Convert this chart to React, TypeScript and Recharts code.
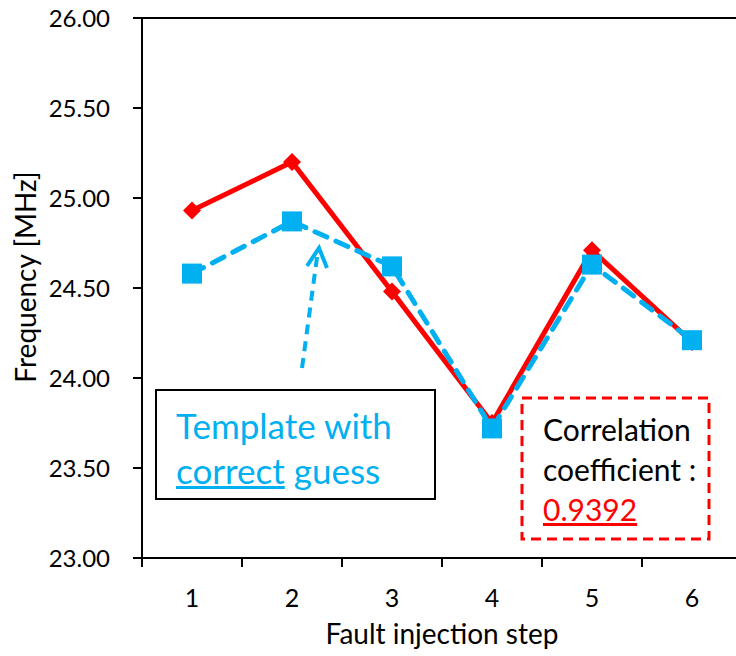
import React from "react";
import { LineChart, Line, XAxis, YAxis, ReferenceLine } from "recharts";

const steps = [1, 2, 3, 4, 5, 6];
const measured = [24.93, 25.2, 24.48, 23.75, 24.71, 24.2];
const template = [24.58, 24.87, 24.62, 23.72, 24.63, 24.21];
const yTicks = [23, 23.5, 24, 24.5, 25, 25.5, 26];
const xTicks = [0.5, 1, 1.5, 2, 2.5, 3, 3.5, 4, 4.5, 5, 5.5, 6, 6.5];

const RED = "#FF0000";
const BLUE = "#00B0F0";
const FONT = "Lato, 'Open Sans', sans-serif";

const data = steps.map((s, i) => ({ step: s, measured: measured[i], template: template[i] }));

const Diamond = (props: any) => {
    const { cx, cy } = props;
    if (cx == null || cy == null) return null;
    const r = 9;
    return <polygon points={`${cx},${cy - r} ${cx + r},${cy} ${cx},${cy + r} ${cx - r},${cy}`} fill={RED} />;
};

const Square = (props: any) => {
    const { cx, cy } = props;
    if (cx == null || cy == null) return null;
    return <rect x={cx - 10} y={cy - 10} width={20} height={20} fill={BLUE} />;
};

// tick marks sit between categories, labels at the integers
const StepTick = (props: any) => {
    const { x, y, payload } = props;
    const v = payload.value;
    if (Number.isInteger(v)) {
        return (
            <text x={x} y={y + 30} textAnchor="middle" dominantBaseline="central" fontSize={25} fontFamily={FONT} fill="#000">
                {v}
            </text>
        );
    }
    return <line x1={x} x2={x} y1={y - 9} y2={y} stroke="#000" strokeWidth={2} />;
};

export default function App() {
    return (
        <div style={{ position: "absolute", left: 0, top: 0, width: 736, height: 656, overflow: "hidden", background: "#fff", fontFamily: FONT }}>
            <LineChart width={760} height={656} data={data} margin={{ top: 18, right: 18, bottom: 8, left: 0 }}>
                <ReferenceLine y={26} stroke="#000" strokeWidth={2} ifOverflow="visible" />
                <XAxis
                    dataKey="step"
                    type="number"
                    domain={[0.5, 6.5]}
                    ticks={xTicks}
                    interval={0}
                    height={90}
                    tickSize={9}
                    tickMargin={0}
                    tickLine={false}
                    axisLine={{ stroke: "#000", strokeWidth: 2 }}
                    tick={<StepTick />}
                    label={{ value: "Fault injection step", position: "insideBottom", offset: 4, fontSize: 28, fontFamily: FONT, fill: "#000" }}
                />
                <YAxis
                    domain={[23, 26]}
                    ticks={yTicks}
                    interval={0}
                    width={142}
                    tickSize={9}
                    tickMargin={23}
                    tickFormatter={(v: number) => v.toFixed(2)}
                    tick={{ fill: "#000", fontSize: 24, fontFamily: FONT }}
                    tickLine={{ stroke: "#000", strokeWidth: 2 }}
                    axisLine={{ stroke: "#000", strokeWidth: 2 }}
                    label={{
                        content: () => (
                            <text x={25} y={277} transform="rotate(-90 25 277)" textAnchor="middle" dominantBaseline="central" fontSize={28} fontFamily={FONT} fill="#000">
                                Frequency [MHz]
                            </text>
                        ),
                    }}
                />
                {/* lines first, then markers on top of both */}
                <Line dataKey="measured" stroke={RED} strokeWidth={5} dot={false} activeDot={false} isAnimationActive={false} />
                <Line dataKey="template" stroke={BLUE} strokeWidth={5} strokeDasharray="13 10" strokeLinecap="round" dot={false} activeDot={false} isAnimationActive={false} />
                <Line dataKey="measured" stroke="none" dot={<Diamond />} activeDot={false} isAnimationActive={false} />
                <Line dataKey="template" stroke="none" dot={<Square />} activeDot={false} isAnimationActive={false} />
            </LineChart>

            <svg width={736} height={656} style={{ position: "absolute", left: 0, top: 0, pointerEvents: "none" }}>
                <line x1={302} y1={368} x2={318} y2={250} stroke={BLUE} strokeWidth={4} strokeDasharray="10 7" />
                <polyline points="307,266 319,248 327,268" fill="none" stroke={BLUE} strokeWidth={4} />
                <rect x={522} y={398} width={187} height={141} fill="#fff" stroke={RED} strokeWidth={3} strokeDasharray="10 6" />
            </svg>

            <div style={{ position: "absolute", left: 155, top: 389, width: 281, height: 111, border: "2px solid #000", background: "#fff", color: BLUE, fontSize: 35, lineHeight: "45px", paddingLeft: 19, paddingTop: 12, boxSizing: "border-box" }}>
                <div>Template with</div>
                <div><span style={{ textDecoration: "underline" }}>correct</span> guess</div>
            </div>

            <div style={{ position: "absolute", left: 543, top: 409, color: "#000", fontSize: 30, lineHeight: "40px" }}>
                <div>Correlation</div>
                <div>coefficient :</div>
                <div style={{ color: RED, textDecoration: "underline" }}>0.9392</div>
            </div>
        </div>
    );
}
